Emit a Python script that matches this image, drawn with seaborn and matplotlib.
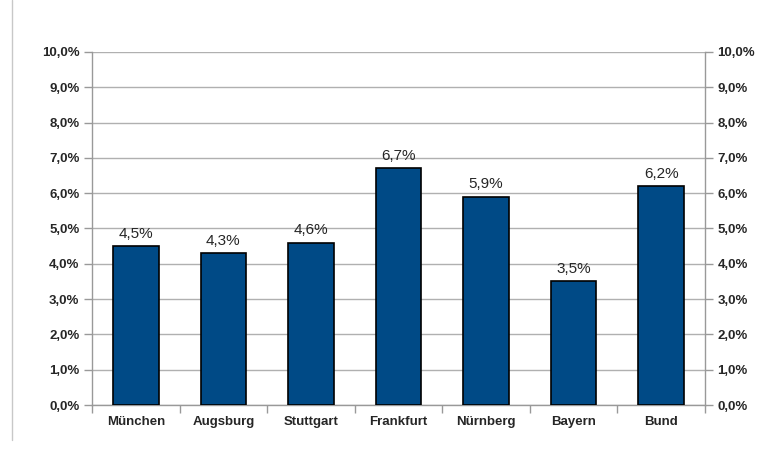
import matplotlib
matplotlib.use("Agg")
import matplotlib.pyplot as plt
import seaborn as sns
import pandas as pd
from matplotlib.lines import Line2D

categories = ["München", "Augsburg", "Stuttgart", "Frankfurt", "Nürnberg", "Bayern", "Bund"]
values = [4.5, 4.3, 4.6, 6.7, 5.9, 3.5, 6.2]
labels = ["4,5%", "4,3%", "4,6%", "6,7%", "5,9%", "3,5%", "6,2%"]
yticks = [0, 1, 2, 3, 4, 5, 6, 7, 8, 9, 10]
ytick_labels = ["0,0%", "1,0%", "2,0%", "3,0%", "4,0%", "5,0%", "6,0%", "7,0%", "8,0%", "9,0%", "10,0%"]

df = pd.DataFrame({"cat": categories, "val": values})

sns.set_style("white")
plt.rcParams['font.family'] = ['Liberation Sans', 'DejaVu Sans']

fig = plt.figure(figsize=(7.57, 4.57), dpi=100)
ax = fig.add_axes([92/757, 52/457, (705-92)/757, (405-52)/457])

sns.barplot(data=df, x="cat", y="val", ax=ax, color="#004a86", width=0.52,
            edgecolor="black", linewidth=1.2, saturation=1, zorder=3)

ax.set_ylim(0, 10)
ax.set_xlim(-0.5, len(categories) - 0.5)
ax.set_yticks(yticks)
ax.set_yticklabels(ytick_labels, fontsize=9.5, fontweight="bold")
ax.yaxis.grid(True, color="#b0b0b0", linewidth=1, zorder=0)
ax.tick_params(axis="y", which="both", left=True, right=True, labelleft=True, labelright=True,
               length=6, color="#999999", width=1, pad=3)
ax.set_xticks(range(len(categories)))
ax.set_xticklabels(categories, fontsize=9.5, fontweight="bold")
ax.tick_params(axis="x", length=0, pad=8)
ax.set_xticks([i + 0.5 for i in range(-1, len(categories))], minor=True)
ax.tick_params(axis="x", which="minor", length=6, color="#999999", width=1, bottom=True)
ax.set_xlabel("")
ax.set_ylabel("")

for s in ["top"]:
    ax.spines[s].set_visible(False)
for s in ["left", "right", "bottom"]:
    ax.spines[s].set_color("#999999")
    ax.spines[s].set_linewidth(1)

for i, (v, lab) in enumerate(zip(values, labels)):
    ax.text(i, v + 0.15, lab, ha="center", va="bottom", fontsize=11)

fig.add_artist(Line2D([12/757, 12/757], [1 - 440/457, 1.0], color="#c8c8c8", linewidth=1,
                      transform=fig.transFigure))

fig.savefig("out.png", dpi=100)
